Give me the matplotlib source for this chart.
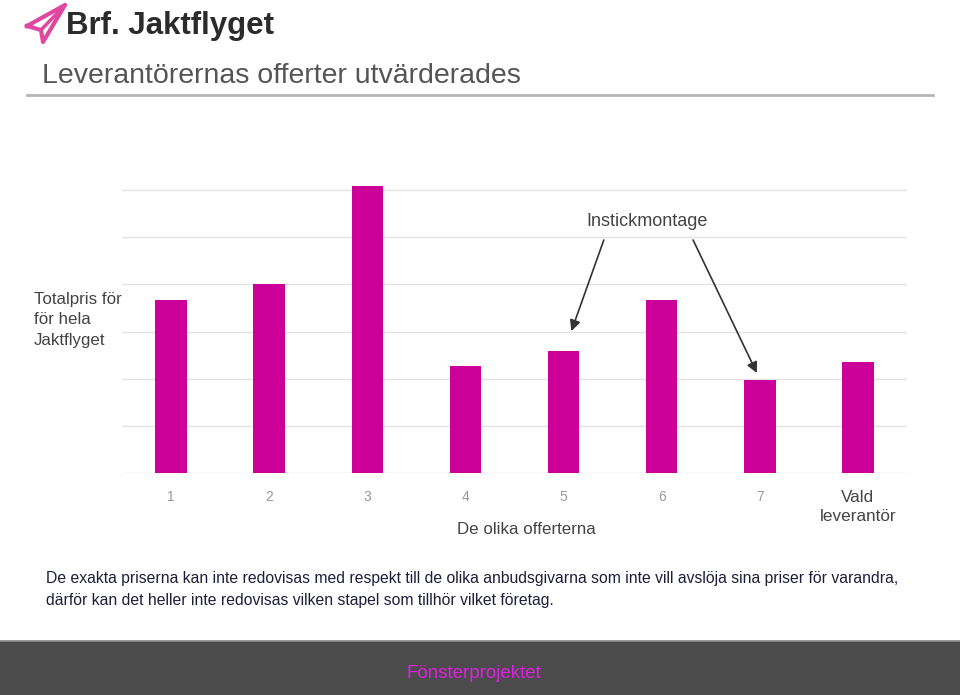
import matplotlib
matplotlib.use("Agg")
import matplotlib.pyplot as plt
from matplotlib.lines import Line2D
from matplotlib.patches import Rectangle

plt.rcParams["font.family"] = ["Liberation Sans", "DejaVu Sans"]

# data (relative price, in gridline units; exact values not disclosed)
categories = ["1", "2", "3", "4", "5", "6", "7", "Vald\nleverantör"]
prices = [3.67, 4.0, 6.08, 2.27, 2.59, 3.67, 1.97, 2.35]

BAR = "#cc0099"
W, H = 960, 695

fig = plt.figure(figsize=(9.6, 6.95), dpi=100)


def fx(px):
    return px / W


def fy(py):
    return 1 - py / H


# header: logo + title
plane = [(27, 26), (65, 5), (43, 42), (41, 30), (27, 26)]
fig.add_artist(Line2D([fx(p[0]) for p in plane], [fy(p[1]) for p in plane],
                      color="#e0479e", lw=3, solid_joinstyle="round"))
fig.add_artist(Line2D([fx(41), fx(65)], [fy(30), fy(5)], color="#e0479e", lw=2.5))
fig.text(fx(66), fy(26), "Brf. Jaktflyget", fontsize=22.5, fontweight="bold",
         color="#2b2b2b", va="center", ha="left")
fig.text(fx(42), fy(76), "Leverantörernas offerter utvärderades", fontsize=20.5,
         color="#555555", va="center", ha="left")
fig.add_artist(Line2D([fx(27), fx(933)], [fy(95), fy(95)], color="#b5b5b5", lw=2))

# chart
ax = fig.add_axes([fx(122), fy(473), fx(907) - fx(122), (473 - 185.3) / H])
x = list(range(len(categories)))
ax.bar(x, prices, width=0.32, color=BAR, zorder=3)
ax.set_xlim(-0.5, len(categories) - 0.5)
ax.set_ylim(0, 6.1)
ax.set_yticks(range(0, 7))
ax.yaxis.grid(True, color="#e3e3e3", lw=1)
ax.tick_params(left=False, labelleft=False, bottom=False)
for s in ax.spines.values():
    s.set_visible(False)
ax.set_xticks(x)
ax.set_xticklabels(categories, fontsize=10)
for i, lab in enumerate(ax.get_xticklabels()):
    if i < len(categories) - 1:
        lab.set_color("#999999")
    else:
        lab.set_color("#444444")
        lab.set_fontsize(12.3)
        lab.set_linespacing(1.3)
        lab.set_va("top")
ax.tick_params(axis="x", pad=9)

fig.text(fx(526), fy(529), "De olika offerterna", fontsize=12.2, color="#444444",
         ha="center", va="center")
fig.text(fx(34), fy(292), "Totalpris för\nför hela\nJaktflyget", fontsize=12.2,
         color="#444444", ha="left", va="top", linespacing=1.45)

# annotation arrows
ax.text(4.85, 5.34, "Instickmontage", fontsize=13, color="#444444",
        ha="center", va="center")
tails = [(4.41, 4.94), (5.32, 4.94)]
tips = [(4.08, 3.01), (5.97, 2.12)]
for t, h in zip(tails, tips):
    ax.annotate("", xy=h, xytext=t,
                arrowprops=dict(arrowstyle="-|>", color="#333333", lw=1.2,
                                mutation_scale=16, shrinkA=0, shrinkB=0))

# caption
fig.text(fx(46), fy(578),
         "De exakta priserna kan inte redovisas med respekt till de olika "
         "anbudsgivarna som inte vill avslöja sina priser för varandra,",
         fontsize=11.3, color="#1e1e3c", ha="left", va="center")
fig.text(fx(46), fy(600),
         "därför kan det heller inte redovisas vilken stapel som tillhör vilket företag.",
         fontsize=11.3, color="#1e1e3c", ha="left", va="center")

# footer
fig.add_artist(Rectangle((0, 0), 1, fy(641), transform=fig.transFigure,
                         facecolor="#4b4b4b", edgecolor="none"))
fig.add_artist(Line2D([0, 1], [fy(641), fy(641)], color="#8a8a8a", lw=1.2))
fig.text(fx(474), fy(673), "Fönsterprojektet", fontsize=13.5, color="#e020e0",
         ha="center", va="center")

fig.savefig("out.png", dpi=100)
